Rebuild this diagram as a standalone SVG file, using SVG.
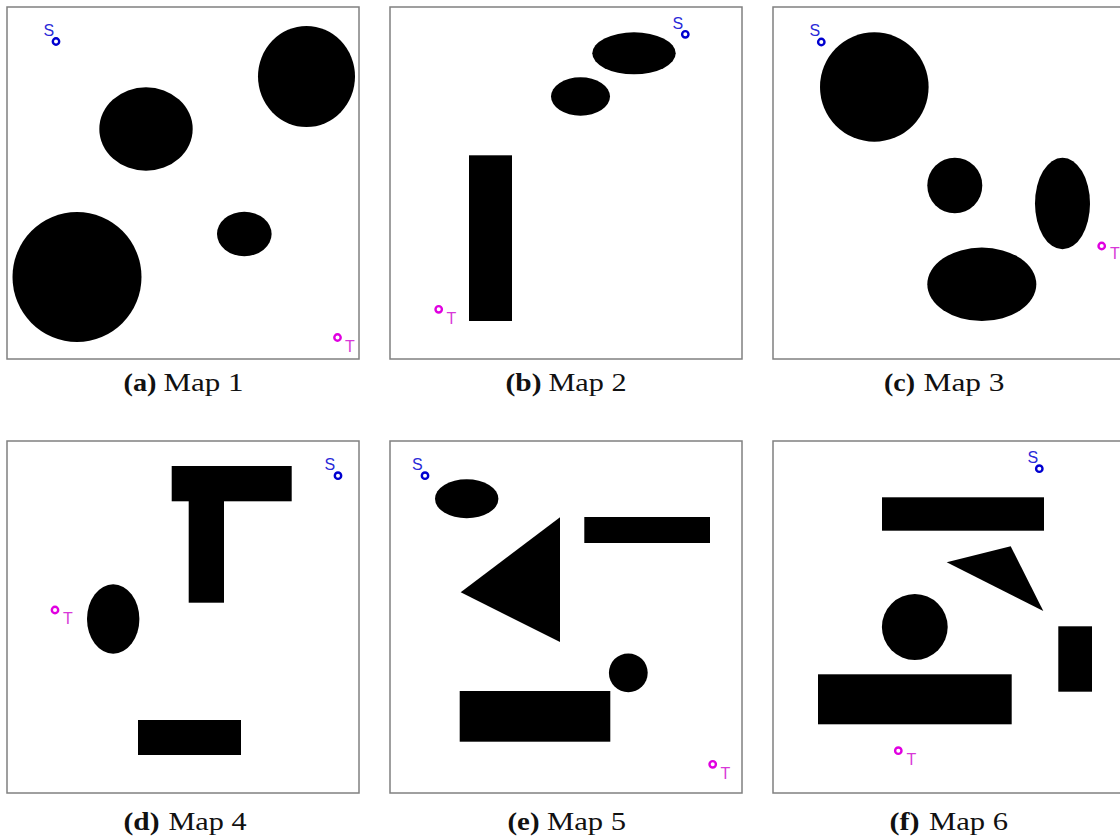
<svg xmlns="http://www.w3.org/2000/svg" width="1120" height="839" viewBox="0 0 1120 839">
<style>
.frame{fill:#fff;stroke:#808080;stroke-width:1.5}
.ob{fill:#000}
.sm{fill:#fff;stroke:#0000d0;stroke-width:2.4}
.tm{fill:#fff;stroke:#e000e0;stroke-width:2.4}
.sl{font-family:"Liberation Sans",Arial,sans-serif;font-size:16px;fill:#2a2ad8}
.tl{font-family:"Liberation Sans",Arial,sans-serif;font-size:16px;fill:#d838d8}
.cb{font-family:"Liberation Serif","Times New Roman",serif;font-size:25px;font-weight:bold;fill:#111}
.cm{font-family:"Liberation Serif","Times New Roman",serif;font-size:25px;fill:#111}
</style>
<rect width="1120" height="839" fill="#fff"/>
<g id="map1">
<rect class="frame" x="7" y="7" width="352" height="352"/>
<ellipse class="ob" cx="306.5" cy="76.5" rx="48.5" ry="50.5"/>
<ellipse class="ob" cx="146" cy="129" rx="46.7" ry="41.8"/>
<ellipse class="ob" cx="77" cy="277" rx="64.5" ry="65"/>
<ellipse class="ob" cx="244.3" cy="234" rx="27.3" ry="22.2"/>
<circle class="sm" cx="56" cy="41.5" r="3.2"/>
<text class="sl" x="43.5" y="36">S</text>
<circle class="tm" cx="337.5" cy="337.5" r="3.2"/>
<text class="tl" x="345" y="352">T</text>
<text class="cb" x="123.5" y="391" textLength="33" lengthAdjust="spacingAndGlyphs">(a)</text>
<text class="cm" x="163.5" y="391" textLength="80" lengthAdjust="spacingAndGlyphs">Map 1</text>
</g>
<g id="map2">
<rect class="frame" x="390" y="7" width="352" height="352"/>
<ellipse class="ob" cx="634" cy="53.3" rx="41.7" ry="21"/>
<ellipse class="ob" cx="580.5" cy="96.5" rx="29.5" ry="19.2"/>
<rect class="ob" x="469" y="155.3" width="43" height="165.7"/>
<circle class="sm" cx="685.3" cy="34.3" r="3.2"/>
<text class="sl" x="672.5" y="28.5">S</text>
<circle class="tm" cx="438.7" cy="309.3" r="3.2"/>
<text class="tl" x="446.5" y="323.5">T</text>
<text class="cb" x="505.5" y="391" textLength="36" lengthAdjust="spacingAndGlyphs">(b)</text>
<text class="cm" x="548.5" y="391" textLength="78" lengthAdjust="spacingAndGlyphs">Map 2</text>
</g>
<g id="map3">
<rect class="frame" x="773" y="7" width="352" height="352"/>
<ellipse class="ob" cx="874.3" cy="87" rx="54.3" ry="54.7"/>
<ellipse class="ob" cx="954.8" cy="185.5" rx="27.5" ry="27.8"/>
<ellipse class="ob" cx="1062.5" cy="203.5" rx="27.5" ry="45.8"/>
<ellipse class="ob" cx="981.8" cy="284.3" rx="54.5" ry="36.7"/>
<circle class="sm" cx="821.3" cy="42" r="3.2"/>
<text class="sl" x="809.5" y="36">S</text>
<circle class="tm" cx="1101.7" cy="246" r="3.2"/>
<text class="tl" x="1110" y="259">T</text>
<text class="cb" x="884" y="391" textLength="31" lengthAdjust="spacingAndGlyphs">(c)</text>
<text class="cm" x="923.5" y="391" textLength="81" lengthAdjust="spacingAndGlyphs">Map 3</text>
</g>
<g id="map4">
<rect class="frame" x="7" y="441" width="352" height="352"/>
<rect class="ob" x="171.7" y="466" width="120" height="35.3"/>
<rect class="ob" x="188.7" y="501" width="35.3" height="101.7"/>
<ellipse class="ob" cx="113.2" cy="619" rx="26.2" ry="34.7"/>
<rect class="ob" x="138" y="720" width="103" height="35"/>
<circle class="sm" cx="338" cy="475.7" r="3.2"/>
<text class="sl" x="324.5" y="470">S</text>
<circle class="tm" cx="55" cy="610" r="3.2"/>
<text class="tl" x="63" y="623.5">T</text>
<text class="cb" x="123.5" y="830" textLength="36" lengthAdjust="spacingAndGlyphs">(d)</text>
<text class="cm" x="168.5" y="830" textLength="78" lengthAdjust="spacingAndGlyphs">Map 4</text>
</g>
<g id="map5">
<rect class="frame" x="390" y="441" width="352" height="352"/>
<ellipse class="ob" cx="466.7" cy="498.8" rx="31.7" ry="19.5"/>
<polygon class="ob" points="560,517.3 460.7,592.3 560,642"/>
<rect class="ob" x="584.3" y="517" width="125.7" height="26"/>
<circle class="ob" cx="628.3" cy="672.8" r="19.4"/>
<rect class="ob" x="459.7" y="691" width="150.6" height="50.7"/>
<circle class="sm" cx="425" cy="475.7" r="3.2"/>
<text class="sl" x="412" y="470">S</text>
<circle class="tm" cx="712.7" cy="764.3" r="3.2"/>
<text class="tl" x="720.5" y="778.5">T</text>
<text class="cb" x="507.5" y="830" textLength="32" lengthAdjust="spacingAndGlyphs">(e)</text>
<text class="cm" x="547" y="830" textLength="79" lengthAdjust="spacingAndGlyphs">Map 5</text>
</g>
<g id="map6">
<rect class="frame" x="773" y="441" width="352" height="352"/>
<rect class="ob" x="882" y="497.3" width="162" height="33.4"/>
<polygon class="ob" points="946.7,562.3 1010.7,546.3 1043.3,611"/>
<circle class="ob" cx="914.8" cy="627" r="32.9"/>
<rect class="ob" x="1058.3" y="626.3" width="33.7" height="65.4"/>
<rect class="ob" x="818" y="674.3" width="193.7" height="50"/>
<circle class="sm" cx="1039.3" cy="468.7" r="3.2"/>
<text class="sl" x="1027.5" y="462.5">S</text>
<circle class="tm" cx="898.3" cy="750.7" r="3.2"/>
<text class="tl" x="906.5" y="765">T</text>
<text class="cb" x="889.5" y="830" textLength="30" lengthAdjust="spacingAndGlyphs">(f)</text>
<text class="cm" x="929" y="830" textLength="79" lengthAdjust="spacingAndGlyphs">Map 6</text>
</g>
</svg>
